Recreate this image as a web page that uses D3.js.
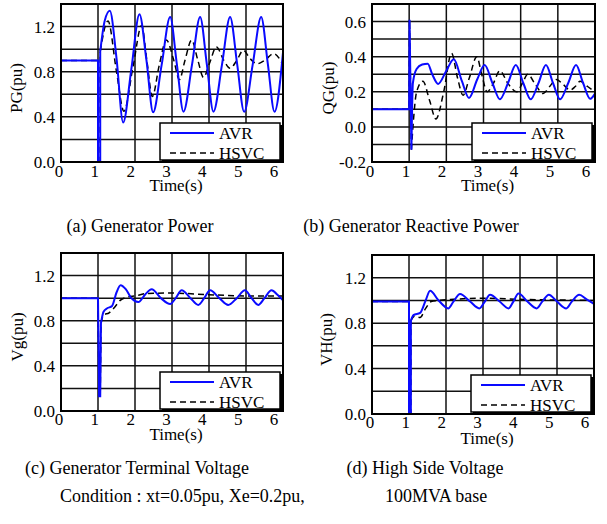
<!DOCTYPE html>
<html>
<head>
<meta charset="utf-8">
<script src="https://cdn.jsdelivr.net/npm/d3@7"></script>
<style>
  body { margin: 0; background: #fff; }
  svg { display: block; }
  text { font-family: "Liberation Serif", "Times New Roman", serif; fill: #000; }
</style>
</head>
<body>
<svg width="607" height="524"></svg>
<script>
// tick values
const timeTicks = [0, 1, 2, 3, 4, 5, 6];
const pgTicks = [0, 0.4, 0.8, 1.2];
const qgTicks = [-0.2, 0, 0.2, 0.4, 0.6];
const vTicks = [0, 0.4, 0.8, 1.2];

// (a) generator power  [t, pu]
const pgAvrStep = [[0, 0.9], [1.0, 0.9], [1.0, 0.0], [1.06, 0.0], [1.06, 0.98]];
const pgAvr = [[1.06, 0.98], [1.18, 1.25], [1.32, 1.34], [1.5, 0.92], [1.68, 0.35], [1.9, 0.82], [2.12, 1.31],
  [2.31, 0.9], [2.49, 0.44], [2.72, 0.86], [2.95, 1.285], [3.13, 0.87], [3.31, 0.445], [3.54, 0.86], [3.76, 1.285],
  [3.94, 0.87], [4.12, 0.445], [4.35, 0.86], [4.57, 1.285], [4.76, 0.87], [4.95, 0.445], [5.18, 0.86], [5.41, 1.285],
  [5.59, 0.87], [5.77, 0.445], [6.0, 0.97]];
const pgHsvcStep = pgAvrStep;
const pgHsvc = [[1.06, 0.98], [1.27, 1.25], [1.5, 0.8], [1.7, 0.45], [1.95, 0.85], [2.18, 1.21], [2.32, 0.9],
  [2.47, 0.58], [2.65, 0.85], [2.85, 1.08], [3.05, 0.9], [3.2, 0.73], [3.35, 0.9], [3.53, 1.08], [3.7, 0.9],
  [3.85, 0.75], [4.02, 0.88], [4.2, 1.02], [4.4, 0.9], [4.57, 0.83], [4.75, 0.9], [4.93, 0.99], [5.1, 0.92],
  [5.3, 0.87], [5.5, 0.9], [5.75, 0.96], [6.0, 0.86]];

// (b) generator reactive power
const qgAvrStep = [[0, 0.1], [1.0, 0.1], [1.01, 0.61], [1.06, -0.13]];
const qgAvr = [[1.06, -0.13], [1.1, 0.25], [1.2, 0.33], [1.35, 0.355], [1.5, 0.36], [1.62, 0.3], [1.78, 0.245],
  [2.0, 0.32], [2.2, 0.385], [2.42, 0.26], [2.61, 0.165], [2.83, 0.27], [3.03, 0.352], [3.24, 0.25], [3.44, 0.157],
  [3.66, 0.25], [3.87, 0.352], [4.07, 0.25], [4.27, 0.157], [4.48, 0.25], [4.68, 0.352], [4.87, 0.25], [5.06, 0.157],
  [5.28, 0.25], [5.49, 0.352], [5.68, 0.25], [5.87, 0.16], [6.0, 0.19]];
const qgHsvcStep = qgAvrStep;
const qgHsvc = [[1.06, -0.13], [1.12, 0.05], [1.2, 0.2], [1.37, 0.26], [1.55, 0.15], [1.72, 0.045], [1.93, 0.2],
  [2.14, 0.42], [2.3, 0.28], [2.45, 0.18], [2.62, 0.28], [2.82, 0.4], [2.95, 0.3], [3.1, 0.2], [3.27, 0.25],
  [3.44, 0.32], [3.65, 0.25], [3.89, 0.2], [4.05, 0.25], [4.19, 0.3], [4.4, 0.24], [4.6, 0.19], [4.78, 0.23],
  [4.96, 0.27], [5.15, 0.24], [5.33, 0.21], [5.47, 0.23], [5.6, 0.26], [5.8, 0.23], [6.0, 0.2]];

// (c) generator terminal voltage
const vgAvrStep = [[0, 1.0], [1.0, 1.0], [1.03, 0.13], [1.06, 0.13], [1.08, 0.78]];
const vgAvr = [[1.08, 0.78], [1.15, 0.88], [1.25, 0.91], [1.38, 0.93], [1.5, 1.05], [1.61, 1.115], [1.75, 1.08],
  [1.9, 1.0], [2.09, 0.965], [2.27, 1.03], [2.45, 1.078], [2.7, 1.0], [2.95, 0.948], [3.1, 1.0], [3.26, 1.07],
  [3.5, 1.0], [3.71, 0.94], [3.87, 1.0], [4.03, 1.07], [4.28, 1.0], [4.52, 0.94], [4.75, 1.0], [4.97, 1.07],
  [5.15, 1.0], [5.33, 0.94], [5.5, 1.0], [5.69, 1.07], [5.85, 1.03], [6.0, 0.98]];
const vgHsvcStep = vgAvrStep;
const vgHsvc = [[1.08, 0.78], [1.15, 0.85], [1.3, 0.87], [1.45, 0.92], [1.6, 0.98], [1.8, 1.01], [2.0, 1.02],
  [2.3, 1.04], [3.0, 1.045], [4.0, 1.03], [5.0, 1.02], [6.0, 1.02]];

// (d) high side voltage
const vhAvrStep = [[0, 0.99], [1.0, 0.99], [1.0, 0.0], [1.05, 0.0], [1.05, 0.82]];
const vhAvr = [[1.05, 0.82], [1.12, 0.87], [1.3, 0.89], [1.45, 1.0], [1.57, 1.085], [1.8, 1.0], [2.06, 0.93],
  [2.2, 0.99], [2.38, 1.056], [2.65, 0.99], [2.9, 0.93], [3.05, 0.99], [3.19, 1.05], [3.45, 0.99], [3.69, 0.93],
  [3.82, 0.99], [3.96, 1.06], [4.2, 0.99], [4.45, 0.93], [4.6, 0.99], [4.78, 1.05], [5.0, 0.99], [5.25, 0.93],
  [5.4, 0.99], [5.6, 1.05], [5.8, 1.01], [6.0, 0.97]];
const vhHsvcStep = vhAvrStep;
const vhHsvc = [[1.05, 0.82], [1.15, 0.86], [1.3, 0.85], [1.45, 0.93], [1.6, 0.99], [1.8, 1.0], [2.2, 1.01],
  [3.0, 1.02], [4.0, 1.01], [6.0, 1.0]];

const seriesNames = ['AVR', 'HSVC'];

const svg = d3.select('svg');

const panels = [
  { left: 61, right: 283, top: 4, bottom: 162, y: [0, 1.4], step: 0.2, ticks: pgTicks, label: 'PG(pu)',
    avr: [pgAvrStep, pgAvr], hsvc: [pgHsvcStep, pgHsvc], labelX: 16, timeY: 191, tickY: 177 },
  { left: 372, right: 595, top: 4, bottom: 162, y: [-0.2, 0.7], step: 0.1, ticks: qgTicks, label: 'QG(pu)',
    avr: [qgAvrStep, qgAvr], hsvc: [qgHsvcStep, qgHsvc], labelX: 328, timeY: 191, tickY: 177 },
  { left: 61, right: 283, top: 253, bottom: 411, y: [0, 1.4], step: 0.2, ticks: vTicks, label: 'Vg(pu)',
    avr: [vgAvrStep, vgAvr], hsvc: [vgHsvcStep, vgHsvc], labelX: 17, timeY: 440, tickY: 425 },
  { left: 372, right: 594, top: 255, bottom: 414, y: [0, 1.4], step: 0.2, ticks: vTicks, label: 'VH(pu)',
    avr: [vhAvrStep, vhAvr], hsvc: [vhHsvcStep, vhHsvc], labelX: 326, timeY: 444, tickY: 428 }
];

panels.forEach(p => {
  const x = d3.scaleLinear().domain([0, 6]).range([p.left, p.right]);
  const xl = d3.scaleLinear().domain([0, 6]).range([p.left - 2, p.right - 9]);
  const y = d3.scaleLinear().domain(p.y).range([p.bottom, p.top]);
  const g = svg.append('g');

  // grid
  const hLines = d3.range(p.y[0], p.y[1] + 1e-6, p.step);
  g.selectAll('.h').data(hLines).enter().append('line')
    .attr('x1', p.left).attr('x2', p.right)
    .attr('y1', d => y(d)).attr('y2', d => y(d))
    .attr('stroke', '#111').attr('stroke-width', 1.5);
  g.selectAll('.v').data(timeTicks).enter().append('line')
    .attr('x1', d => x(d)).attr('x2', d => x(d))
    .attr('y1', p.top).attr('y2', p.bottom)
    .attr('stroke', '#111').attr('stroke-width', 1.5);

  // curves
  const lin = d3.line().x(d => x(d[0])).y(d => y(d[1]));
  const smooth = d3.line().x(d => x(d[0])).y(d => y(d[1])).curve(d3.curveMonotoneX);
  const clip = 'clip' + p.left + p.top;
  g.append('clipPath').attr('id', clip).append('rect')
    .attr('x', p.left).attr('y', p.top).attr('width', p.right - p.left).attr('height', p.bottom - p.top);
  const curves = g.append('g').attr('clip-path', `url(#${clip})`);
  [[p.hsvc, '#000', '6,4', 1.5], [p.avr, '#0a0aff', null, 2]].forEach(([s, col, dash, w]) => {
    curves.append('path').attr('d', lin(s[0]) + smooth(s[1]))
      .attr('fill', 'none').attr('stroke', col).attr('stroke-width', w)
      .attr('stroke-dasharray', dash);
  });

  // frame
  g.append('rect').attr('x', p.left).attr('y', p.top)
    .attr('width', p.right - p.left).attr('height', p.bottom - p.top)
    .attr('fill', 'none').attr('stroke', '#000').attr('stroke-width', 2);

  // tick labels
  g.selectAll('.xt').data(timeTicks).enter().append('text')
    .attr('x', d => xl(d)).attr('y', p.tickY)
    .attr('text-anchor', 'middle').attr('font-size', 17).text(d => d);
  g.selectAll('.yt').data(p.ticks).enter().append('text')
    .attr('x', p.left - 6).attr('y', d => y(d)).attr('dy', '0.35em')
    .attr('text-anchor', 'end').attr('font-size', 17).text(d => d.toFixed(1));

  g.append('text').attr('x', (p.left + p.right) / 2 + 4).attr('y', p.timeY)
    .attr('text-anchor', 'middle').attr('font-size', 17).text('Time(s)');
  g.append('text')
    .attr('transform', `translate(${p.labelX},${(p.top + p.bottom) / 2 + 5}) rotate(-90)`)
    .attr('dy', '0.35em').attr('text-anchor', 'middle').attr('font-size', 17).text(p.label);

  // legend
  const lx = p.right - 123, ly = p.bottom - 39;
  const lg = g.append('g').attr('transform', `translate(${lx},${ly})`);
  lg.append('rect').attr('x', 2).attr('y', 2).attr('width', 120).attr('height', 37).attr('fill', '#000');
  lg.append('rect').attr('width', 120).attr('height', 37).attr('fill', '#fff')
    .attr('stroke', '#000').attr('stroke-width', 1.5);
  seriesNames.forEach((name, i) => {
    const ry = 10 + i * 20;
    lg.append('line').attr('x1', 10).attr('x2', 54).attr('y1', ry).attr('y2', ry)
      .attr('stroke', i === 0 ? '#0a0aff' : '#000').attr('stroke-width', i === 0 ? 2 : 1.5)
      .attr('stroke-dasharray', i === 0 ? null : '6,4');
    lg.append('text').attr('x', 59).attr('y', ry).attr('dy', '0.35em').attr('font-size', 17).text(name);
  });
});

// captions
const captions = [
  ['(a) Generator Power', 140, 232],
  ['(b) Generator Reactive Power', 411, 232],
  ['(c) Generator Terminal Voltage', 137, 474],
  ['(d) High Side Voltage', 425, 474]
];
svg.selectAll('.cap').data(captions).enter().append('text')
  .attr('x', d => d[1]).attr('y', d => d[2]).attr('text-anchor', 'middle')
  .attr('font-size', 18).text(d => d[0]);
svg.append('text').attr('x', 60).attr('y', 502).attr('font-size', 18)
  .text('Condition : xt=0.05pu, Xe=0.2pu,');
svg.append('text').attr('x', 385).attr('y', 502).attr('font-size', 18).text('100MVA base');
</script>
</body>
</html>
